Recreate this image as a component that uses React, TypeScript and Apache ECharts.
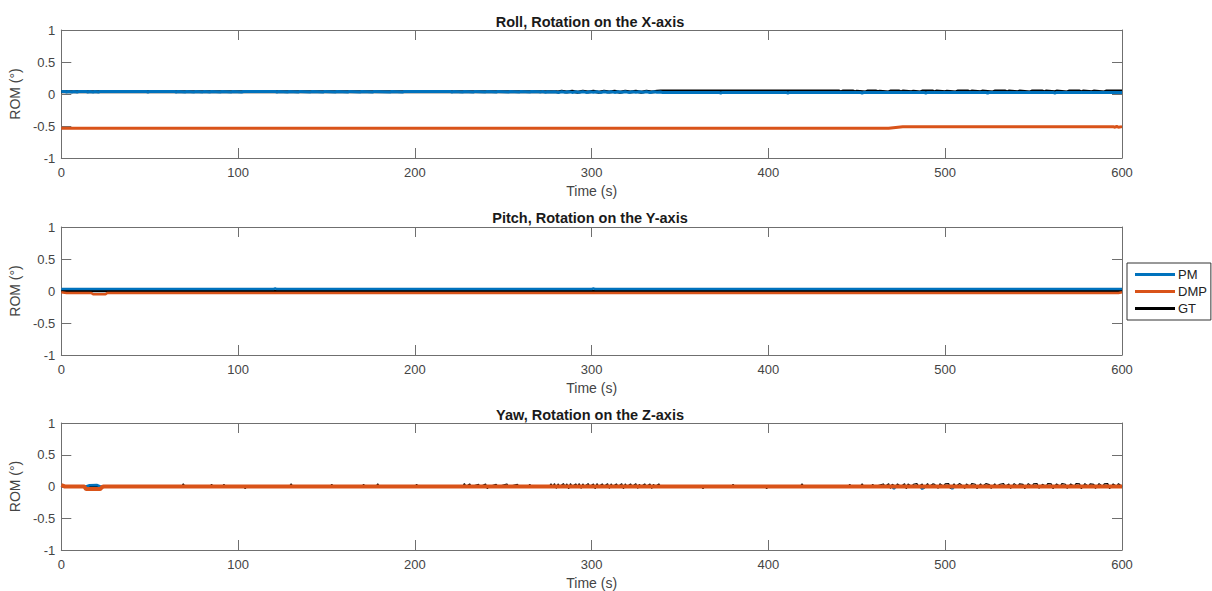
import React, { useEffect, useRef } from "react";
import * as echarts from "echarts";

// Time axis and ROM axis ticks
const timeTicks = [0, 100, 200, 300, 400, 500, 600];
const romTicks = [-1, -0.5, 0, 0.5, 1];

const panelTitles = [
  "Roll, Rotation on the X-axis",
  "Pitch, Rotation on the Y-axis",
  "Yaw, Rotation on the Z-axis",
];
const seriesNames = ["PM", "DMP", "GT"];
const seriesColors = ["#0072BD", "#D95319", "#000000"];

// Roll (X-axis) traces, [time s, ROM deg]
const rollPM: number[][] = [
  [0, 0.04], [2, 0.04], [3, 0.03], [4, 0.04], [6, 0.032], [7, 0.04], [9, 0.03], [10, 0.04],
  [14, 0.04], [15, 0.03], [16, 0.04], [18, 0.032], [19, 0.04], [21, 0.03], [22, 0.04],
  [48, 0.04], [49, 0.03], [50, 0.04], [64, 0.04], [65, 0.03], [66, 0.04], [70, 0.032], [71, 0.04],
  [75, 0.03], [76, 0.04], [80, 0.033], [81, 0.04], [84, 0.03], [85, 0.04], [90, 0.032], [91, 0.04],
  [96, 0.03], [97, 0.04], [102, 0.032], [103, 0.04], [121, 0.04], [122, 0.03], [123, 0.04],
  [128, 0.032], [129, 0.04], [134, 0.03], [135, 0.04], [141, 0.033], [142, 0.04], [148, 0.03],
  [149, 0.04], [155, 0.032], [156, 0.04], [162, 0.03], [163, 0.04], [169, 0.032], [170, 0.04],
  [176, 0.03], [177, 0.04], [186, 0.032], [187, 0.04], [193, 0.03], [194, 0.04], [220, 0.04],
  [221, 0.03], [222, 0.04], [227, 0.032], [228, 0.04], [233, 0.03], [234, 0.04], [240, 0.033],
  [241, 0.04], [246, 0.03], [247, 0.04], [253, 0.032], [254, 0.04], [259, 0.03], [260, 0.04],
  [265, 0.032], [266, 0.04], [270, 0.035], [271, 0.03], [272, 0.038], [274, 0.026], [275, 0.036],
  [277, 0.03], [279, 0.036], [281, 0.025], [283, 0.034], [285, 0.028], [287, 0.036], [289, 0.025],
  [291, 0.034], [293, 0.028], [295, 0.036], [297, 0.025], [299, 0.034], [301, 0.028], [303, 0.036],
  [305, 0.025], [307, 0.034], [309, 0.028], [311, 0.036], [313, 0.025], [315, 0.034], [317, 0.028],
  [319, 0.036], [321, 0.025], [323, 0.034], [325, 0.028], [327, 0.036], [329, 0.028], [331, 0.034],
  [333, 0.025], [335, 0.034], [337, 0.028], [339, 0.03], [340, 0.025], [372, 0.025], [373, 0.015],
  [374, 0.025], [410, 0.025], [411, 0.015], [412, 0.025], [452, 0.025], [453, 0.012], [454, 0.025],
  [488, 0.025], [489, 0.015], [490, 0.025], [523, 0.025], [524, 0.012], [525, 0.025], [561, 0.025],
  [562, 0.015], [563, 0.025], [600, 0.025],
];
const rollDMP: number[][] = [
  [0, -0.535], [468, -0.535], [476, -0.51], [595, -0.51], [596, -0.52], [597, -0.505], [598, -0.52], [600, -0.51],
];
const rollGT: number[][] = [
  [0, 0.036], [280, 0.036], [281, 0.03], [283, 0.042], [286, 0.03], [289, 0.042], [292, 0.028],
  [295, 0.042], [298, 0.03], [301, 0.042], [304, 0.028], [307, 0.042], [310, 0.03], [313, 0.042],
  [316, 0.028], [319, 0.042], [322, 0.03], [325, 0.042], [328, 0.028], [331, 0.042], [334, 0.03],
  [337, 0.042], [339, 0.045], [440, 0.045], [441, 0.032], [442, 0.045], [448, 0.045], [449, 0.032],
  [450, 0.045], [455, 0.032], [456, 0.045], [461, 0.045], [462, 0.035], [463, 0.045], [468, 0.032],
  [469, 0.045], [474, 0.045], [475, 0.032], [476, 0.045], [481, 0.035], [482, 0.045], [486, 0.032],
  [487, 0.045], [493, 0.045], [494, 0.032], [495, 0.045], [500, 0.035], [501, 0.045], [506, 0.032],
  [507, 0.045], [513, 0.045], [514, 0.032], [515, 0.045], [520, 0.035], [521, 0.045], [527, 0.032],
  [528, 0.045], [534, 0.045], [535, 0.032], [536, 0.045], [541, 0.035], [542, 0.045], [548, 0.032],
  [549, 0.045], [555, 0.045], [556, 0.032], [557, 0.045], [562, 0.035], [563, 0.045], [569, 0.032],
  [570, 0.045], [576, 0.045], [577, 0.032], [578, 0.045], [583, 0.035], [584, 0.045], [590, 0.032],
  [591, 0.045], [600, 0.045],
];

// Pitch (Y-axis) traces
const pitchPM: number[][] = [
  [0, 0.03], [120, 0.03], [121, 0.04], [122, 0.03], [300, 0.03], [301, 0.04], [302, 0.03], [600, 0.03],
];
const pitchDMP: number[][] = [
  [0, -0.02], [3, -0.03], [17, -0.03], [18, -0.05], [25, -0.05], [26, -0.03], [598, -0.03], [600, -0.02],
];
const pitchGT: number[][] = [
  [0, 0.0], [600, 0.0],
];

// Yaw (Z-axis) traces
const yawPM: number[][] = [
  [0, 0.0], [14, 0.0], [16, 0.02], [20, 0.025], [22, 0.0], [470, 0.0], [471, -0.035], [472, 0.0],
  [486, 0.0], [487, -0.04], [488, 0.0], [503, 0.0], [504, -0.035], [505, 0.0], [600, 0.0],
];
const yawDMP: number[][] = [
  [0, 0.02], [2, 0.0], [13, 0.0], [14, -0.04], [22, -0.04], [23, -0.01], [24, 0.0], [600, 0.0],
];
const yawGT: number[][] = [
  [0, 0], [68, 0], [69, 0.04], [70, 0], [84, 0], [85, 0.035], [86, 0], [91, 0], [92, 0.035], [93, 0],
  [103, 0], [104, -0.035], [105, 0], [129, 0], [130, 0.04], [131, 0], [152, 0], [153, 0.035], [154, 0],
  [170, 0], [171, 0.035], [172, 0], [178, 0], [179, 0.04], [180, 0], [200, 0], [201, 0.035], [202, 0],
  [227, 0], [228, 0.045], [229, 0], [231, 0.04], [232, 0], [236, 0.035], [237, 0], [240, 0.04],
  [241, -0.035], [242, 0], [246, 0.035], [247, 0], [252, 0.04], [253, 0], [258, 0.035], [259, 0],
  [264, 0], [265, 0.035], [266, 0], [276, 0], [277, 0.04], [278, 0], [279, 0.045], [280, -0.03],
  [281, 0.04], [282, 0], [284, 0.045], [285, 0], [286, 0.04], [287, -0.035], [288, 0.045], [289, 0],
  [291, 0.04], [292, 0], [293, 0.045], [294, -0.03], [295, 0.04], [296, 0], [298, 0.045], [299, 0],
  [301, 0.04], [302, -0.035], [303, 0.045], [304, 0], [306, 0.04], [307, 0], [309, 0.045], [310, -0.03],
  [311, 0.04], [312, 0], [314, 0.04], [315, 0], [317, 0.045], [318, -0.035], [319, 0.04], [320, 0],
  [322, 0.04], [323, 0], [325, 0.045], [326, -0.03], [327, 0.035], [328, 0], [330, 0.04], [331, 0],
  [333, 0.04], [334, -0.03], [335, 0.035], [336, 0], [338, 0.04], [339, 0], [362, 0], [363, -0.035],
  [364, 0], [379, 0], [380, 0.035], [381, 0], [398, 0], [399, -0.035], [400, 0], [418, 0], [419, 0.04],
  [420, 0], [445, 0], [446, 0.035], [447, 0], [452, 0], [453, 0.04], [454, 0], [458, 0], [459, 0.035],
  [460, 0], [465, 0.04], [466, 0], [468, 0.045], [469, -0.03], [470, 0.035], [472, 0], [473, 0.04],
  [475, 0], [477, 0.045], [478, -0.035], [479, 0.04], [481, 0], [482, 0.035], [484, 0.045], [485, 0],
  [487, 0.04], [488, -0.03], [490, 0.045], [491, 0], [493, 0.04], [494, 0.035], [496, -0.03],
  [497, 0.045], [499, 0], [500, 0.04], [502, 0.045], [503, -0.035], [505, 0.04], [506, 0], [508, 0.045],
  [509, 0.03], [511, -0.03], [512, 0.04], [514, 0], [515, 0.045], [517, 0.035], [518, -0.035],
  [520, 0.04], [521, 0], [523, 0.045], [525, 0.03], [526, -0.03], [528, 0.04], [529, 0], [531, 0.035],
  [533, 0.045], [534, 0], [536, 0.04], [537, -0.03], [539, 0.045], [541, 0], [542, 0.04], [544, 0.035],
  [545, -0.035], [547, 0.045], [549, 0], [550, 0.04], [552, 0.045], [553, -0.03], [555, 0.035], [557, 0],
  [558, 0.045], [560, 0.04], [561, -0.035], [563, 0.04], [565, 0], [566, 0.045], [568, 0.035],
  [569, -0.03], [571, 0.04], [573, 0], [574, 0.045], [576, 0.04], [577, -0.035], [579, 0.045], [581, 0],
  [582, 0.04], [584, 0.035], [585, -0.03], [587, 0.045], [589, 0], [590, 0.04], [592, 0.045],
  [593, -0.035], [595, 0.04], [597, 0], [598, 0.045], [600, 0],
];

// per panel: [PM, DMP, GT]
const panelData = [
  [rollPM, rollDMP, rollGT],
  [pitchPM, pitchDMP, pitchGT],
  [yawPM, yawDMP, yawGT],
];
const panelLineWidths = [
  [3, 3, 3],
  [2.5, 2.5, 2.5],
  [2.5, 4, 1.2],
];

const AXIS_COLOR = "#6f6f6f";
const LABEL_COLOR = "#444444";
const FONT = "'Liberation Sans', Arial, sans-serif";

const gridTops = [30, 227, 423];
const titleTops = [14, 210, 407];
const GRID_LEFT = 58;
const GRID_WIDTH = 1064;
const GRID_HEIGHT = 128;

export default function App() {
  const ref = useRef<HTMLDivElement>(null);

  useEffect(() => {
    if (!ref.current) return;
    const chart = echarts.init(ref.current, undefined, { renderer: "svg" });

    const grids = gridTops.map((top) => ({
      left: GRID_LEFT,
      top,
      width: GRID_WIDTH,
      height: GRID_HEIGHT,
      show: false,
    }));

    const tickCommon = {
      show: true,
      inside: true,
      length: 10,
      lineStyle: { color: AXIS_COLOR, width: 1 },
    };
    const lineCommon = { show: true, onZero: false, lineStyle: { color: AXIS_COLOR, width: 1 } };

    const xAxes: any[] = [];
    const yAxes: any[] = [];
    gridTops.forEach((_, g) => {
      xAxes.push({
        type: "value",
        gridIndex: g,
        position: "bottom",
        min: timeTicks[0],
        max: timeTicks[timeTicks.length - 1],
        interval: timeTicks[1] - timeTicks[0],
        axisLine: lineCommon,
        axisTick: tickCommon,
        splitLine: { show: false },
        axisLabel: { color: LABEL_COLOR, fontSize: 13, fontFamily: FONT, margin: 8 },
        name: "Time (s)",
        nameLocation: "middle",
        nameGap: 26,
        nameTextStyle: { color: LABEL_COLOR, fontSize: 14, fontFamily: FONT },
      });
      xAxes.push({
        type: "value",
        gridIndex: g,
        position: "top",
        min: timeTicks[0],
        max: timeTicks[timeTicks.length - 1],
        interval: timeTicks[1] - timeTicks[0],
        axisLine: lineCommon,
        axisTick: tickCommon,
        splitLine: { show: false },
        axisLabel: { show: false },
      });
      yAxes.push({
        type: "value",
        gridIndex: g,
        position: "left",
        min: romTicks[0],
        max: romTicks[romTicks.length - 1],
        interval: romTicks[1] - romTicks[0],
        axisLine: lineCommon,
        axisTick: tickCommon,
        splitLine: { show: false },
        axisLabel: { color: LABEL_COLOR, fontSize: 13, fontFamily: FONT, margin: 6 },
        name: "ROM (°)",
        nameLocation: "middle",
        nameRotate: 90,
        nameGap: 30,
        nameTextStyle: { color: LABEL_COLOR, fontSize: 14, fontFamily: FONT },
      });
      yAxes.push({
        type: "value",
        gridIndex: g,
        position: "right",
        min: romTicks[0],
        max: romTicks[romTicks.length - 1],
        interval: romTicks[1] - romTicks[0],
        axisLine: lineCommon,
        axisTick: tickCommon,
        splitLine: { show: false },
        axisLabel: { show: false },
      });
    });

    // draw order: GT underneath, then PM, DMP on top
    const drawOrder = [2, 0, 1];
    const series: any[] = [];
    panelData.forEach((traces, g) => {
      drawOrder.forEach((s, k) => {
        series.push({
          type: "line",
          name: seriesNames[s],
          xAxisIndex: g * 2,
          yAxisIndex: g * 2,
          data: traces[s],
          showSymbol: false,
          symbol: "none",
          color: seriesColors[s],
          lineStyle: { color: seriesColors[s], width: panelLineWidths[g][s] },
          z: 2 + k,
          silent: true,
        });
      });
    });

    chart.setOption({
      animation: false,
      backgroundColor: "#ffffff",
      title: panelTitles.map((text, g) => ({
        text,
        left: GRID_LEFT + GRID_WIDTH / 2,
        top: titleTops[g],
        textAlign: "center",
        padding: 0,
        textStyle: { fontSize: 14.5, fontWeight: "bold", color: "#1a1a1a", fontFamily: FONT },
      })),
      legend: {
        data: seriesNames,
        orient: "vertical",
        left: 1127,
        top: 263,
        icon: "rect",
        itemWidth: 40,
        itemHeight: 3,
        itemGap: 4,
        padding: [5, 4, 5, 8],
        borderColor: "#333333",
        borderWidth: 1,
        borderRadius: 0,
        textStyle: { fontSize: 13, color: "#222222", fontFamily: FONT, padding: [0, 0, 0, -2] },
        selectedMode: false,
      },
      grid: grids,
      xAxis: xAxes,
      yAxis: yAxes,
      series,
    });

    return () => chart.dispose();
  }, []);

  return (
    <div
      ref={ref}
      style={{ position: "absolute", left: 0, top: 0, width: 1212, height: 591, background: "#fff" }}
    />
  );
}
